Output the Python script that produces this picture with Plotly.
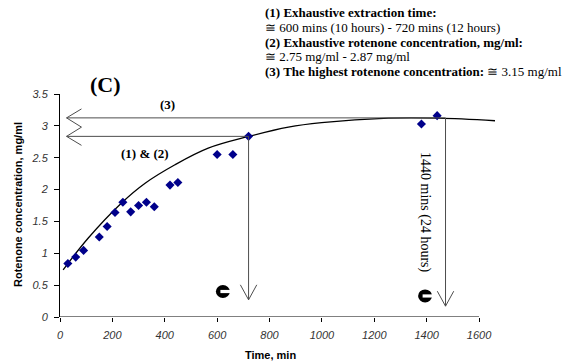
import plotly.graph_objects as go

# ---- data ----
time_min = [30, 60, 90, 150, 180, 210, 240, 270, 300, 330, 360, 420, 450, 600, 660, 720, 1380, 1440]
conc_mg_ml = [0.84, 0.94, 1.045, 1.255, 1.42, 1.64, 1.80, 1.65, 1.75, 1.80, 1.73, 2.07, 2.11, 2.55, 2.55, 2.835, 3.03, 3.16]

# trend line
trend_time = [12, 108, 235, 325, 439, 566, 717, 872, 999, 1254, 1445, 1661]
trend_conc = [0.74, 1.24, 1.79, 2.10, 2.39, 2.65, 2.83, 2.98, 3.05, 3.12, 3.12, 3.08]

x_ticks = [0, 200, 400, 600, 800, 1000, 1200, 1400, 1600]
y_ticks = [0, 0.5, 1, 1.5, 2, 2.5, 3, 3.5]

# annotation reference values
exhaust_time = 720
exhaust_conc = 2.835
highest_conc = 3.125
highest_time = 1472
arrow_left_time = 25
icon_times = [622, 1394]
icon_concs = [0.40, 0.33]

fig = go.Figure()
fig.add_trace(go.Scatter(x=trend_time, y=trend_conc, mode="lines",
                         line=dict(color="black", width=1.3, shape="spline", smoothing=1),
                         hoverinfo="skip"))
fig.add_trace(go.Scatter(x=time_min, y=conc_mg_ml, mode="markers",
                         marker=dict(symbol="diamond", size=7, color="#00008B")))

gray = "#4d4d4d"
dx, dy = 57, 0.235   # arrowhead size in data units
shapes = []
# x axis line (only to 1600)
shapes.append(dict(type="line", xref="x", yref="y", x0=0, x1=1600, y0=0, y1=0,
                   line=dict(color="black", width=1)))
# horizontal lines
shapes.append(dict(type="line", xref="x", yref="y", x0=arrow_left_time, x1=highest_time,
                   y0=highest_conc, y1=highest_conc, line=dict(color=gray, width=1)))
shapes.append(dict(type="line", xref="x", yref="y", x0=arrow_left_time, x1=exhaust_time,
                   y0=exhaust_conc, y1=exhaust_conc, line=dict(color=gray, width=1)))
# left zigzag arrowheads
zig = (f"M {arrow_left_time+dx} {highest_conc+dy*0.6} L {arrow_left_time} {highest_conc} "
       f"L {arrow_left_time+dx} {(highest_conc+exhaust_conc)/2} L {arrow_left_time} {exhaust_conc} "
       f"L {arrow_left_time+dx} {exhaust_conc-dy*0.6}")
shapes.append(dict(type="path", xref="x", yref="y", path=zig, line=dict(color=gray, width=1)))
# vertical arrows
for vx, vy0, vy1 in [(exhaust_time, exhaust_conc, 0.27), (highest_time, highest_conc, 0.17)]:
    shapes.append(dict(type="line", xref="x", yref="y", x0=vx, x1=vx, y0=vy0, y1=vy1,
                       line=dict(color=gray, width=1)))
    shapes.append(dict(type="path", xref="x", yref="y",
                       path=f"M {vx-dx*0.55} {vy1+dy} L {vx} {vy1} L {vx+dx*0.55} {vy1+dy}",
                       line=dict(color=gray, width=1)))
# circled-arrow icons (black disk with white bar)
for it, ic in zip(icon_times, icon_concs):
    shapes.append(dict(type="circle", xref="x", yref="y", xsizemode="pixel", ysizemode="pixel",
                       xanchor=it, yanchor=ic, x0=-7, x1=7, y0=-6.5, y1=6.5,
                       fillcolor="black", line=dict(width=0)))
    shapes.append(dict(type="path", xref="x", yref="y", xsizemode="pixel", ysizemode="pixel",
                       xanchor=it, yanchor=ic,
                       path="M -2.5 -1.6 L 8 -1.6 L 8 1.6 L -2.5 1.6 Z",
                       fillcolor="white", line=dict(width=0)))

serif = "Liberation Serif, Times New Roman, serif"
anns = []
def txt(text, x, y, size=12, xanchor="center", yanchor="middle", xref="paper", yref="paper", **kw):
    anns.append(dict(text=text, x=x, y=y, xref=xref, yref=yref, showarrow=False,
                     xanchor=xanchor, yanchor=yanchor,
                     font=dict(family=kw.pop("family", serif), size=size, color="black"), **kw))

# plot area in pixels
L, R, T, B = 60, 500, 94, 317
def px(xp): return (xp - L) / (R - L)
def py(yp): return (B - yp) / (B - T)

txt("<b>(C)</b>", px(105), py(84), size=22)
txt("<b>(3)</b>", px(167), py(104), size=13)
txt("<b>(1) &amp; (2)</b>", px(145), py(153), size=13)
lines = ["<b>(1) Exhaustive extraction time:</b>",
         "≅ 600 mins (10 hours) - 720 mins (12 hours)",
         "<b>(2) Exhaustive rotenone concentration, mg/ml:</b>",
         "≅ 2.75 mg/ml - 2.87 mg/ml",
         "<b>(3) The highest rotenone concentration:</b> ≅ 3.15 mg/ml"]
for i, l in enumerate(lines):
    txt(l, px(263), py(12 + 15 * i), size=13, xanchor="left")
txt("1440 mins (24 hours)", px(425), py(212), size=14, textangle=90)
txt("<b>Time, min</b>", px(270), py(355), size=11, family="Liberation Sans, Arial")
txt("<b>Rotenone concentration, mg/ml</b>", px(18), py(205), size=11,
    family="Liberation Sans, Arial", textangle=-90)

tickfont = dict(family="Liberation Sans, Arial", size=11, color="#333", style="italic")
fig.update_layout(
    width=566, height=362, margin=dict(l=L, r=566 - R, t=T, b=362 - B),
    paper_bgcolor="white", plot_bgcolor="white", showlegend=False,
    shapes=shapes, annotations=anns,
    xaxis=dict(range=[0, 1680], tickvals=x_ticks, ticks="outside", ticklen=4,
               tickcolor="black", showline=False, showgrid=False, zeroline=False,
               automargin=False, ticklabelstandoff=4, tickfont=tickfont),
    yaxis=dict(range=[0, 3.5], tickvals=y_ticks, ticks="outside", ticklen=5,
               tickcolor="black", showline=True, linecolor="black", linewidth=1,
               showgrid=False, zeroline=False, automargin=False,
               ticklabelstandoff=4, tickfont=tickfont),
)
fig.write_html("out.html", config={"displayModeBar": False},
               post_script="document.body.style.margin='0';")
